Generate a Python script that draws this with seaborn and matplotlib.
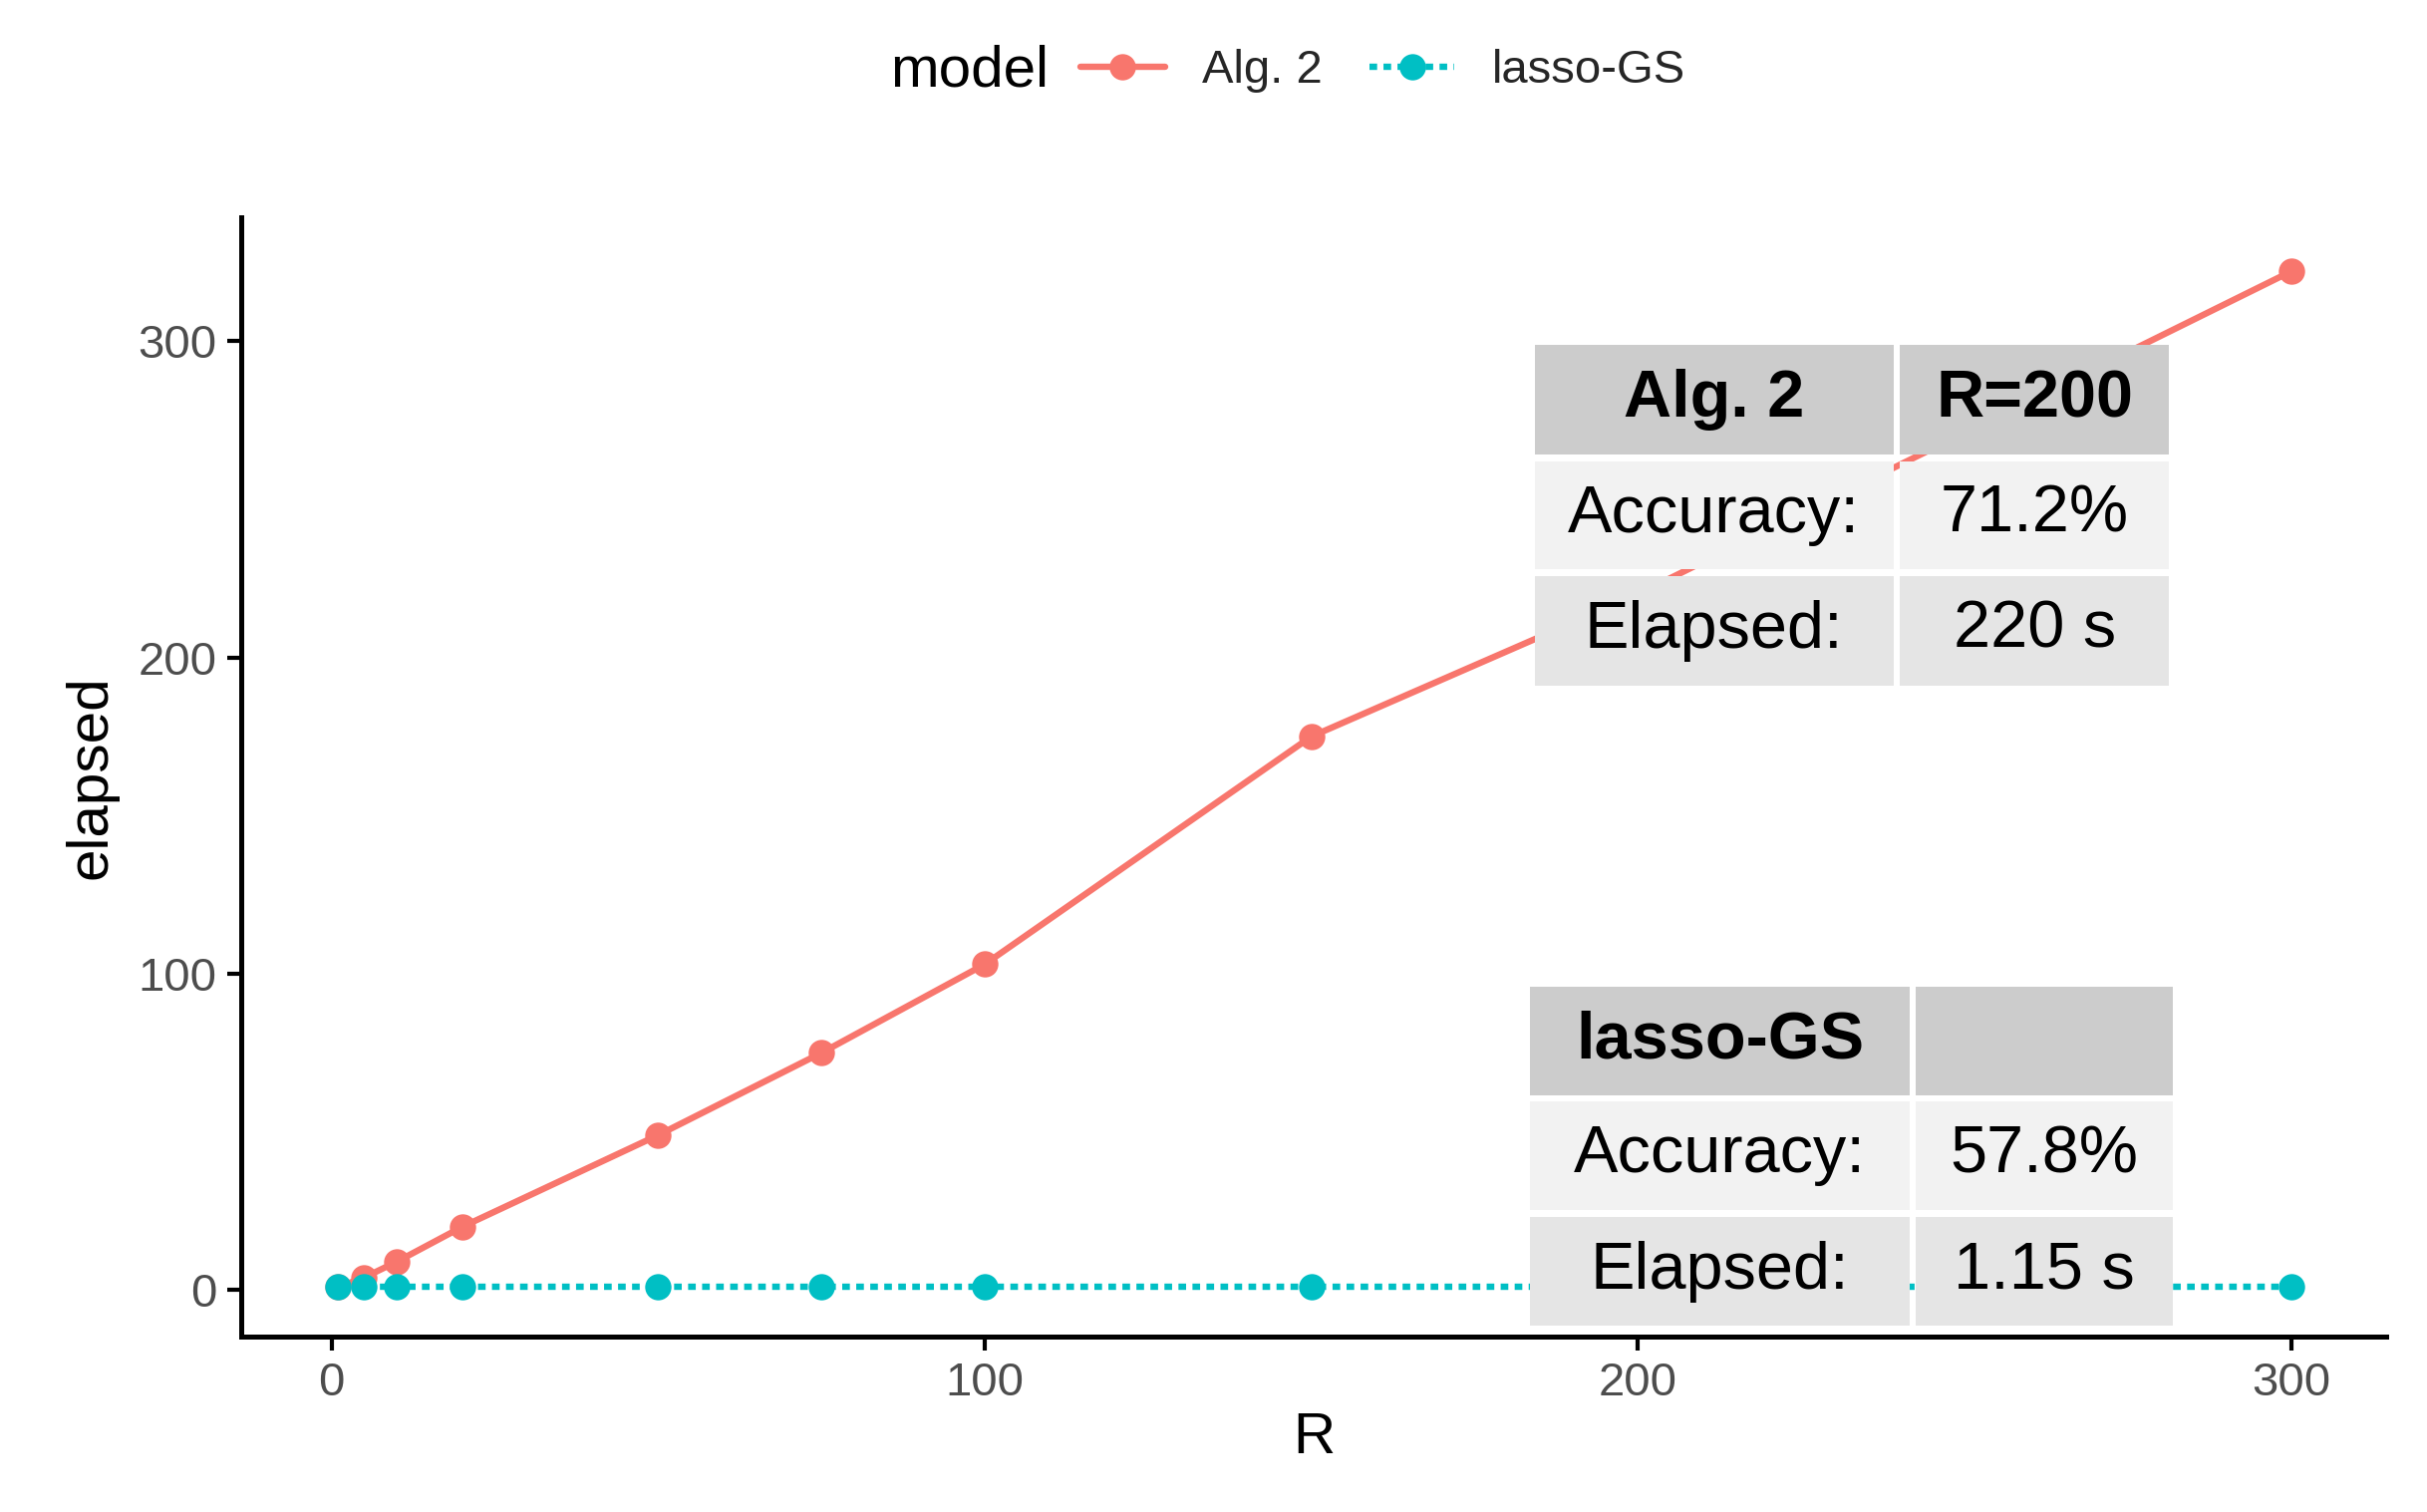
import matplotlib
matplotlib.use("Agg")
import matplotlib.pyplot as plt
import seaborn as sns
import pandas as pd
from matplotlib.patches import Rectangle
from matplotlib.lines import Line2D

R = [1, 5, 10, 20, 50, 75, 100, 150, 200, 300]
alg2 = [1, 4, 9, 20, 49, 75, 103, 175, 220, 322]
lasso = [1, 1, 1, 1, 1, 1, 1, 1, 1, 1]
models = ["Alg. 2", "lasso-GS"]
colors = ["#F8766D", "#00BFC4"]
tab1 = [["Alg. 2", "R=200"], ["Accuracy:", "71.2%"], ["Elapsed:", "220 s"]]
tab2 = [["lasso-GS", ""], ["Accuracy:", "57.8%"], ["Elapsed:", "1.15 s"]]

df = pd.DataFrame({"R": R * 2, "elapsed": alg2 + lasso,
                   "model": [models[0]] * len(R) + [models[1]] * len(R)})

sns.set_theme(style="ticks")
plt.rcParams['font.family'] = ['Liberation Sans', 'DejaVu Sans']
fig = plt.figure(figsize=(24.35, 15.17), dpi=100)
ax = fig.add_axes([0.0995, 0.116, 0.8835, 0.740])
styles = ["-", (0, (1.2, 1.0))]
for m, c, ls in zip(models, colors, styles):
    d = df[df.model == m]
    sns.lineplot(data=d, x="R", y="elapsed", ax=ax, color=c, linewidth=4.6,
                 linestyle=ls, marker="o", markersize=19, markeredgewidth=0, legend=False)
ax.set_xlim(-13.8, 314.5)
ax.set_ylim(-14.7, 339)
ax.set_xticks([0, 100, 200, 300])
ax.set_yticks([0, 100, 200, 300])
ax.tick_params(labelsize=34, width=3, length=10, colors="black", labelcolor="#4D4D4D", pad=8)
for s in ["top", "right"]:
    ax.spines[s].set_visible(False)
for s in ["left", "bottom"]:
    ax.spines[s].set_linewidth(3.6)
    ax.spines[s].set_color("black")
ax.set_xlabel("R", fontsize=42, color="black")
ax.set_ylabel("elapsed", fontsize=42, color="black", labelpad=14)

def table(data, xs, ys):
    fills = ["#CCCCCC", "#F2F2F2", "#E5E5E5"]
    for i, row in enumerate(data):
        for j, txt in enumerate(row):
            x0, x1 = xs[j]
            y1, y0 = ys[i]
            ax.add_patch(Rectangle((x0, y0), x1 - x0, y1 - y0, transform=ax.transAxes,
                                   facecolor=fills[i], edgecolor="none", zorder=5))
            ax.text((x0 + x1) / 2, (y0 + y1) / 2, txt, transform=ax.transAxes,
                    ha="center", va="center", fontsize=48, zorder=6, color="black",
                    fontweight="bold" if i == 0 else "normal")

table(tab1, [(0.603, 0.7705), (0.7734, 0.899)],
      [(0.886, 0.788), (0.7825, 0.6856), (0.680, 0.5817)])
table(tab2, [(0.601, 0.778), (0.781, 0.9005)],
      [(0.313, 0.216), (0.2105, 0.1136), (0.1066, 0.0097)])

handles = [Line2D([], [], color=c, lw=4.6, ls=ls, marker="o", markersize=19, markeredgewidth=0)
           for c, ls in zip(colors, styles)]
fig.text(0.367, 0.953, "model", fontsize=42, ha="left", va="center", color="black")
fig.legend(handles, models, loc="center left", bbox_to_anchor=(0.445, 0.953),
           ncol=2, frameon=False, fontsize=34, handlelength=1.8,
           columnspacing=1.0, handletextpad=0.8, borderaxespad=0, borderpad=0)
fig.savefig("out.png", dpi=100)
